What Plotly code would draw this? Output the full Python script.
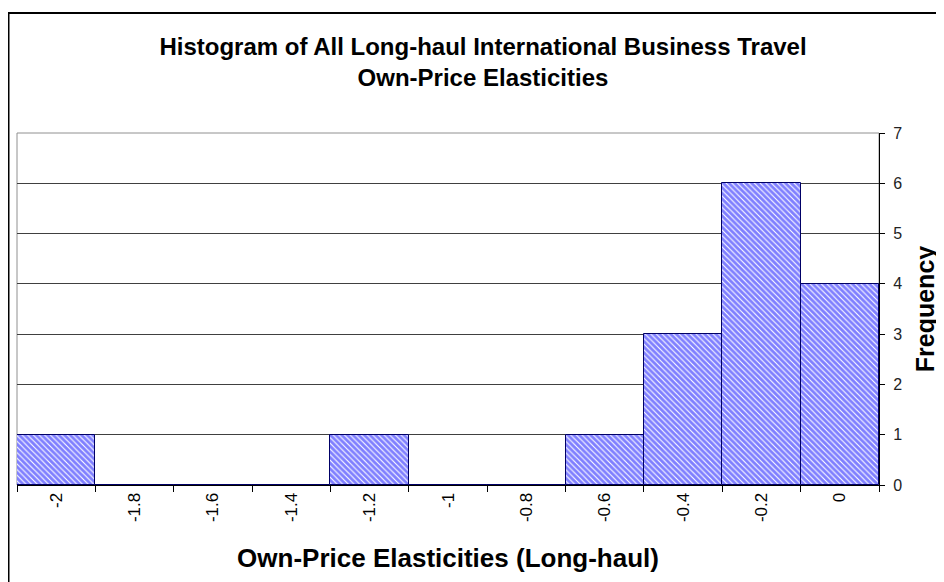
import plotly.graph_objects as go

categories = ["-2", "-1.8", "-1.6", "-1.4", "-1.2", "-1", "-0.8", "-0.6", "-0.4", "-0.2", "0"]
frequency = [1, 0, 0, 0, 1, 0, 0, 1, 3, 6, 4]
y_ticks = [0, 1, 2, 3, 4, 5, 6, 7]

FONT = "Arial, Liberation Sans, sans-serif"

# the page body adds an 8px offset, so the figure is laid out 8px smaller
W, H = 936, 574
L, R, T, B = 9, 65, 125, 97
plot_w = W - L - R
plot_h = H - T - B

fig = go.Figure()
fig.add_trace(go.Bar(
    x=categories,
    y=frequency,
    width=1.0,
    marker=dict(
        color="white",
        line=dict(color="#000066", width=1),
        pattern=dict(shape="\\", fgcolor="#0000ff", bgcolor="white", size=4, solidity=0.72),
    ),
    showlegend=False,
))

# plot-area frame (gray) and outer chart border (black)
fig.add_shape(type="rect", xref="paper", yref="paper", x0=0, x1=1, y0=0, y1=1,
              line=dict(color="#909090", width=1), layer="below")
fig.add_shape(type="rect", xref="paper", yref="paper",
              x0=-(L - 0) / plot_w + 0.5 / plot_w, x1=2,
              y0=-2, y1=(T - 5) / plot_h + 1,
              line=dict(color="black", width=2))

fig.update_layout(
    width=W, height=H,
    margin=dict(l=L, r=R, t=T, b=B),
    paper_bgcolor="white", plot_bgcolor="white",
    bargap=0,
    title=dict(
        text="<b>Histogram of All Long-haul International Business Travel<br>Own-Price Elasticities</b>",
        x=(483 - 8) / W, xanchor="center", xref="container",
        y=1 - 47 / H, yanchor="middle", yref="container",
        font=dict(family=FONT, size=24, color="black"),
    ),
    xaxis=dict(
        type="category",
        automargin=False,
        tickangle=-90,
        tickson="boundaries",
        ticks="outside", ticklen=6, tickcolor="black",
        showline=True, linecolor="black", linewidth=1,
        showgrid=False,
        tickfont=dict(family=FONT, size=17, color="black"),
        title=dict(text="<b>Own-Price Elasticities (Long-haul)</b>",
                   font=dict(family=FONT, size=26, color="black"), standoff=27),
    ),
    yaxis=dict(
        side="right",
        automargin=False,
        range=[0, 7],
        tickvals=y_ticks,
        ticks="outside", ticklen=5, tickcolor="black",
        ticklabelstandoff=5,
        showline=True, linecolor="black", linewidth=1,
        showgrid=True, gridcolor="#404040", gridwidth=1,
        zeroline=False,
        tickfont=dict(family=FONT, size=16, color="#222222"),
        title=dict(text="<b>Frequency</b>",
                   font=dict(family=FONT, size=25, color="black"), standoff=15),
    ),
)

fig.write_html("out.html")
